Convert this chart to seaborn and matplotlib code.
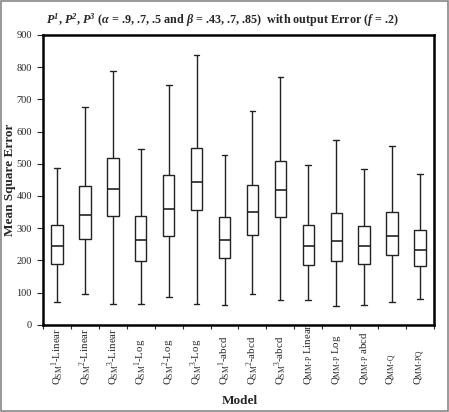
import numpy as np
import pandas as pd
import matplotlib
matplotlib.use("Agg")
import matplotlib.pyplot as plt
import seaborn as sns

models = [r"Q$_{\rm SM}{}^{1}$-Linear", r"Q$_{\rm SM}{}^{2}$-Linear", r"Q$_{\rm SM}{}^{3}$-Linear",
          r"Q$_{\rm SM}{}^{1}$-Log", r"Q$_{\rm SM}{}^{2}$-Log", r"Q$_{\rm SM}{}^{3}$-Log",
          r"Q$_{\rm SM}{}^{1}$-abcd", r"Q$_{\rm SM}{}^{2}$-abcd", r"Q$_{\rm SM}{}^{3}$-abcd",
          r"Q$_{\text{MM-P}}$ Linear", r"Q$_{\text{MM-P}}$ Log", r"Q$_{\text{MM-P}}$ abcd",
          r"Q$_{\text{MM-Q}}$", r"Q$_{\text{MM-PQ}}$"]
mins   = [70, 95, 65, 64, 87, 63, 62, 96, 76, 77, 57, 60, 69, 79]
q1s    = [190, 266, 337, 199, 277, 355, 207, 278, 335, 187, 197, 190, 215, 181]
medians= [243, 340, 422, 262, 358, 444, 262, 349, 418, 245, 259, 244, 276, 233]
q3s    = [309, 430, 517, 338, 464, 548, 334, 433, 509, 311, 347, 308, 351, 295]
maxs   = [487, 677, 788, 546, 744, 839, 526, 664, 769, 497, 574, 484, 556, 469]

rows = []
for m, a, b, c, d, e in zip(models, mins, q1s, medians, q3s, maxs):
    for v in (a, b, c, d, e):
        rows.append({"Model": m, "MSE": v})
df = pd.DataFrame(rows)

sns.set_style("white")
plt.rcParams['font.family'] = ['Liberation Serif', 'DejaVu Serif']
plt.rcParams['mathtext.fontset'] = 'custom'
plt.rcParams['mathtext.rm'] = 'Liberation Serif'
plt.rcParams['mathtext.it'] = 'Liberation Serif:italic'
plt.rcParams['mathtext.bf'] = 'Liberation Serif:bold'
plt.rcParams['mathtext.bfit'] = 'Liberation Serif:italic:bold'

fig = plt.figure(figsize=(4.49, 4.12), dpi=100)
ax_bottom = 324.7
ax_top = 35
ax = fig.add_axes([43/449, 1-ax_bottom/412, (434-43)/449, (ax_bottom-ax_top)/412])

lc = '#222222'
sns.boxplot(data=df, x="Model", y="MSE", order=models, whis=(0, 100), width=0.41,
            color='white', linewidth=1.0, ax=ax,
            boxprops=dict(facecolor='white', edgecolor=lc),
            medianprops=dict(color=lc, linewidth=1.2),
            whiskerprops=dict(color=lc), capprops=dict(color=lc))

ax.set_ylim(0, 900)
ax.set_xlim(-0.5, len(models)-0.5)
ax.set_yticks(np.arange(0, 901, 100))
ax.tick_params(axis='y', direction='out', length=4, width=0.8, labelsize=7.5, left=True, pad=4)
ax.set_xticks(np.arange(len(models)))
ax.set_xticklabels([''] * len(models))
ax.tick_params(axis='x', length=0)
ax.set_xticks(np.arange(len(models)+1) - 0.5, minor=True)
ax.tick_params(axis='x', which='minor', direction='out', length=3, width=0.8, bottom=True)
for s in ax.spines.values():
    s.set_linewidth(1.8)
    s.set_color('black')

h = ax_bottom - ax_top
ybase = -(385 - ax_bottom) / h
for i, m in enumerate(models):
    ax.text(i, ybase, m, rotation=90, ha='center', va='bottom', fontsize=7.8,
            transform=ax.get_xaxis_transform())

ax.set_xlabel("")
ax.set_ylabel("")
fig.text(240/449, 1-401/412, "Model", ha='center', va='center', fontsize=9.5, fontweight='bold')
fig.text(10/449, 1-180/412, "Mean Square Error", ha='center', va='center', rotation=90,
         fontsize=9.5, fontweight='bold')

title = (r"$\mathbfit{P}^{\mathbfit{1}}$, $\mathbfit{P}^{\mathbfit{2}}$, $\mathbfit{P}^{\mathbfit{3}}$ "
         r"($\mathbfit{\alpha}$ = .9, .7, .5 and $\mathbfit{\beta}$ = .43, .7, .85)  with output Error ($\mathbfit{f}$ = .2)")
fig.text(223/449, 1-20/412, title, ha='center', va='center', fontsize=8.7, fontweight='bold')

fig.patches.append(matplotlib.patches.Rectangle((0.002, 0.002), 0.996, 0.996, transform=fig.transFigure,
                                                fill=False, edgecolor='#888888', linewidth=1.2))
fig.savefig("out.png", dpi=100)
